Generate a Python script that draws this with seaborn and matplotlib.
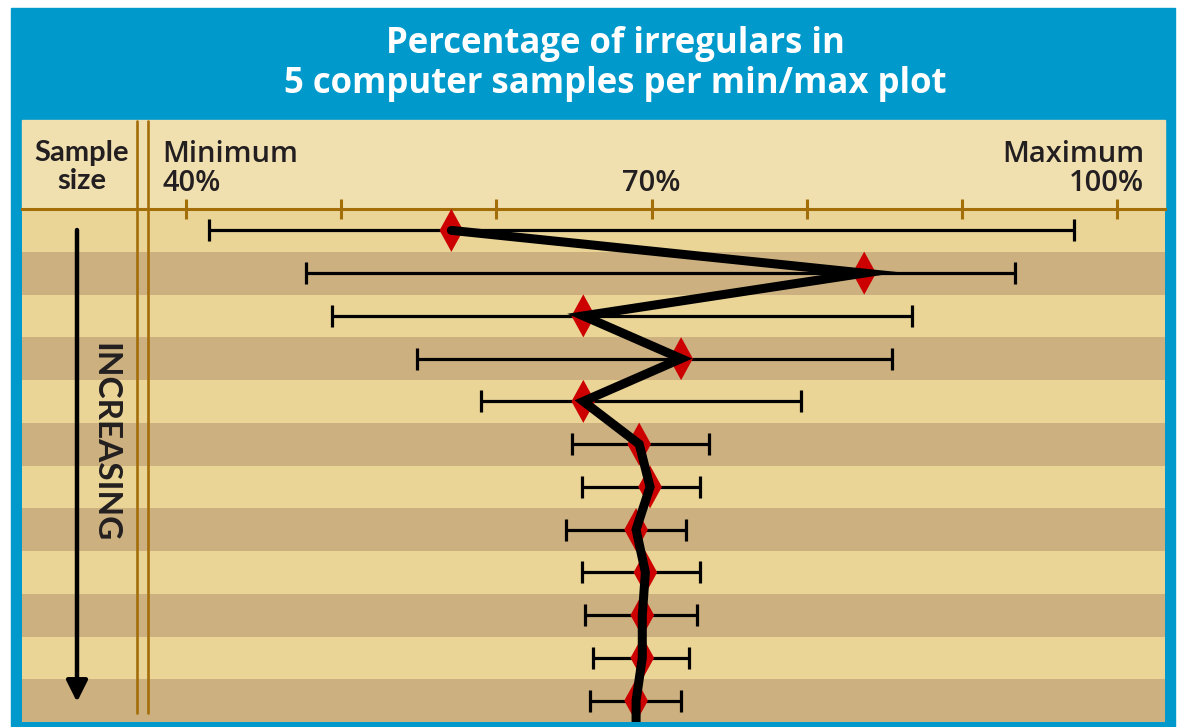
import numpy as np
import matplotlib
matplotlib.use("Agg")
import matplotlib.pyplot as plt
import seaborn as sns
from matplotlib.lines import Line2D
from matplotlib.patches import Rectangle
from matplotlib.transforms import ScaledTranslation

# ---------------------------------------------------------------------------
# data (percent of irregulars, one row per sample size, top = smallest)
# ---------------------------------------------------------------------------
row_idx = list(range(12))
pct_min = [41.5, 47.7, 49.4, 54.9, 59.0, 64.9, 65.5, 64.5, 65.5, 65.7, 66.2, 66.0]
pct_mid = [57.1, 83.7, 65.6, 71.9, 65.6, 69.2, 69.9, 69.0, 69.6, 69.4, 69.4, 69.0]
pct_max = [97.2, 93.4, 86.8, 85.5, 79.6, 73.7, 73.1, 72.2, 73.1, 72.9, 72.4, 71.9]

major_ticks = [40, 70, 100]
major_labels = ["Minimum\n40%", "70%", "Maximum\n100%"]
minor_ticks = [50, 60, 80, 90]

title = "Percentage of irregulars in\n5 computer samples per min/max plot"

# colours
BLUE = "#0099CC"
HEAD = "#F0DFAF"
LIGHT = "#EAD597"
DARK = "#CCB080"
BROWN = "#A36E08"
RED = "#CC0000"
INK = "#231F20"

W, H = 1177, 727


def px_rect(x0, y0, x1, y1):
    # pixel box (top-left origin) -> figure fraction [l, b, w, h]
    return [x0 / W, 1 - y1 / H, (x1 - x0) / W, (y1 - y0) / H]


sns.set_style("white")
plt.rcParams["font.family"] = ["Lato", "DejaVu Sans"]

fig = plt.figure(figsize=(W / 100, H / 100), dpi=100, facecolor="white")

# blue frame + header panel
l, b, w, h = px_rect(11, 8, 1175, 727)
fig.add_artist(Rectangle((l, b), w, h, transform=fig.transFigure, color=BLUE, zorder=0))
l, b, w, h = px_rect(22, 120, 1165, 210)
fig.add_artist(Rectangle((l, b), w, h, transform=fig.transFigure, color=HEAD, zorder=1))

fig.text(615 / W, 1 - 64 / H, title, ha="center", va="center", color="white",
         fontsize=25, fontweight="bold", linespacing=1.15, family=["Open Sans", "DejaVu Sans"])

# ---------------------------------------------------------------------------
# main panel
# ---------------------------------------------------------------------------
ax = fig.add_axes(px_rect(22, 209, 1165, 722))
ax.set_zorder(2)

for r in row_idx:
    ax.axhspan(r - 0.5, r + 0.5, color=LIGHT if r % 2 == 0 else DARK, lw=0, zorder=0)

err = [np.array(pct_mid) - np.array(pct_min), np.array(pct_max) - np.array(pct_mid)]
ax.errorbar(pct_mid, row_idx, xerr=err, fmt="none", ecolor="black",
            elinewidth=2.3, capsize=8, capthick=2.3, zorder=3)

diamond = [(0, 1), (0.55, 0), (0, -1), (-0.55, 0), (0, 1)]
sns.scatterplot(x=pct_mid, y=row_idx, marker=diamond, s=31 ** 2, color=RED,
                edgecolor="none", linewidth=0, ax=ax, zorder=4)

# thick connecting line, run off the bottom edge like the original
line_x = pct_mid + [pct_mid[-1]]
line_y = row_idx + [row_idx[-1] + 0.6]
sns.lineplot(x=line_x, y=line_y, sort=False, estimator=None, color="black",
             lw=6.5, ax=ax, zorder=5, solid_joinstyle="miter")

ax.set_xlim(40 - 164 / 15.52, 40 + 979 / 15.52)
ax.set_ylim(len(row_idx) - 0.5, -0.5)
ax.set_yticks([])
ax.set_xlabel("")
ax.set_ylabel("")
for side in ["left", "right", "bottom"]:
    ax.spines[side].set_visible(False)
ax.spines["top"].set_color(BROWN)
ax.spines["top"].set_linewidth(2.2)

ax.xaxis.tick_top()
ax.set_xticks(major_ticks)
ax.set_xticklabels(major_labels)
ax.set_xticks(minor_ticks, minor=True)
ax.tick_params(axis="x", which="both", direction="inout", length=14, width=2.2,
               color=BROWN, pad=1, labelsize=21, labelcolor=INK)
labs = ax.get_xticklabels()
labs[0].set_ha("left")
labs[0].set_multialignment("left")
labs[0].set_transform(labs[0].get_transform() + ScaledTranslation(-0.24, 0, fig.dpi_scale_trans))
labs[2].set_ha("right")
labs[2].set_multialignment("right")
labs[2].set_transform(labs[2].get_transform() + ScaledTranslation(0.27, 0, fig.dpi_scale_trans))
for t in labs:
    t.set_fontweight("semibold")
    t.set_family(["Open Sans", "DejaVu Sans"])
    t.set_linespacing(0.98)

# sample-size column
fig.text(82 / W, 1 - 167 / H, "Sample\nsize", ha="center", va="center", color=INK,
         fontsize=21, fontweight="bold", linespacing=1.1)
for xp in (137, 148):
    fig.add_artist(Line2D([xp / W, xp / W], [1 - 121 / H, 1 - 713 / H],
                          transform=fig.transFigure, color=BROWN, lw=1.9, zorder=6))

ax.annotate("", xy=(55 / 1143, 1 - 702 / 513 + 209 / 513),
            xytext=(55 / 1143, 1 - 21 / 513), xycoords="axes fraction",
            arrowprops=dict(arrowstyle="-|>", lw=3.2, color="black", mutation_scale=32,
                            shrinkA=0, shrinkB=0))
ax.text(83 / 1143, 1 - 234 / 513, "INCREASING", transform=ax.transAxes,
        rotation=-90, ha="center", va="center", color=INK, fontsize=24, fontweight="bold")

fig.savefig("out.png", dpi=100, facecolor="white")
